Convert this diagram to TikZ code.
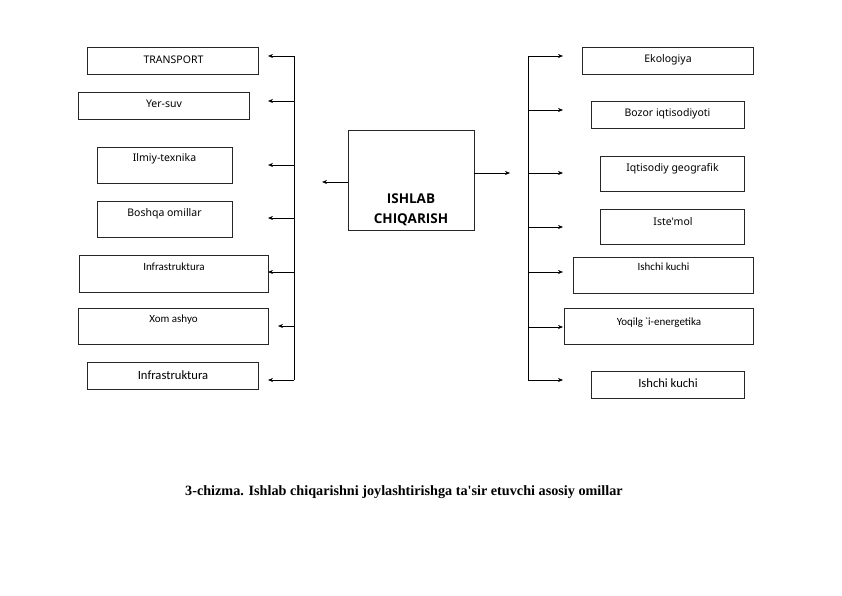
\documentclass[tikz,border=0pt]{standalone}
\usepackage{fontspec}
\newfontfamily\boxfont{Noto Sans}
\newfontfamily\centrefont{Open Sans}
\newfontfamily\calfont{Carlito}
\newfontfamily\capfont{Liberation Serif}
\usetikzlibrary{arrows.meta,fit}
\begin{document}
\begin{tikzpicture}[x=1pt,y=-1pt,
  box/.style={draw=black!85, line width=0.7pt, inner sep=0pt},
  txt/.style={inner sep=0pt, font=\boxfont\fontsize{10.5}{12}\selectfont},
  smalltxt/.style={inner sep=0pt, font=\calfont\fontsize{11}{13}\selectfont},
  bigtxt/.style={inner sep=0pt, font=\calfont\fontsize{12.6}{15}\selectfont},
  bus/.style={draw=black, line width=0.6pt},
  arr/.style={draw=black, line width=0.6pt, -{Stealth[length=5pt,width=4pt]}}]
\useasboundingbox (0,0) rectangle (842,596);
% left boxes
\node[box, fit={(87,47) (258,74)}] (transport) {};
\node[txt] (transport-t) at (173.5,59.5) {TRANSPORT};
\node[box, fit={(78,92) (249,119)}] (yersuv) {};
\node[txt] (yersuv-t) at (164,103.5) {Yer-suv};
\node[box, fit={(97,147) (232,183)}] (ilmiy) {};
\node[txt] (ilmiy-t) at (164.5,158.5) {Ilmiy-texnika};
\node[box, fit={(97,201) (232,237)}] (boshqa) {};
\node[txt] (boshqa-t) at (164.5,213.5) {Boshqa omillar};
\node[box, fit={(79,255) (268,292)}] (infraA) {};
\node[smalltxt] (infraA-t) at (174,267) {Infrastruktura};
\node[box, fit={(78,308) (268,344)}] (xom) {};
\node[smalltxt] (xom-t) at (173.5,320) {Xom ashyo};
\node[box, fit={(87,362) (258,389)}] (infraB) {};
\node[bigtxt] (infraB-t) at (173,375) {Infrastruktura};
% right boxes
\node[box, fit={(582,47) (753,74)}] (eko) {};
\node[txt] (eko-t) at (668,59.5) {Ekologiya};
\node[box, fit={(591,101) (744,128)}] (bozor) {};
\node[txt] (bozor-t) at (667.5,114) {Bozor iqtisodiyoti};
\node[box, fit={(600,156) (744,191)}] (iqt) {};
\node[txt] (iqt-t) at (672.5,168.5) {Iqtisodiy geografik};
\node[box, fit={(600,209) (744,244)}] (iste) {};
\node[txt] (iste-t) at (673,222) {Iste'mol};
\node[box, fit={(573,257) (753,293)}] (ishchiA) {};
\node[smalltxt] (ishchiA-t) at (663.5,267) {Ishchi kuchi};
\node[box, fit={(564,308) (753,344)}] (yoq) {};
\node[smalltxt] (yoq-t) at (659,323) {Yoqilg\,\textasciigrave i-energetika};
\node[box, fit={(591,371) (744,398)}] (ishchiB) {};
\node[bigtxt] (ishchiB-t) at (668,383) {Ishchi kuchi};
% centre
\node[box, fit={(348,130) (474,230)}] (centre) {};
\node[inner sep=0pt, align=center, font=\centrefont\bfseries\fontsize{13.5}{20.5}\selectfont] (centre-t) at (411,210) {ISHLAB\\CHIQARISH};
% buses
\coordinate (LT) at (294,56);
\coordinate (LB) at (294,380);
\coordinate (RT) at (528,56);
\coordinate (RB) at (528,380);
\draw[bus] (LT) -- (LB);
\draw[bus] (RT) -- (RB);
\foreach \n/\y/\t in {1/56/268, 2/101/268, 3/165/268, 4/218/268, 5/272/268, 6/326/278, 7/380/268}{
  \coordinate (lb\n) at (294,\y);
  \coordinate (lt\n) at (\t,\y);
  \draw[arr] (lb\n) -- (lt\n);
}
\foreach \n/\y in {1/56, 2/110, 3/173, 4/227, 5/272, 6/327, 7/380}{
  \coordinate (rb\n) at (528,\y);
  \coordinate (rt\n) at (563,\y);
  \draw[arr] (rb\n) -- (rt\n);
}
\coordinate (cl) at (322,182);
\coordinate (cr) at (510,173);
\draw[arr] (centre.west |- cl) -- (cl);
\draw[arr] (centre.east |- cr) -- (cr);
% caption
\node[inner sep=0pt, anchor=west, font=\capfont\bfseries\fontsize{14.2}{16}\selectfont] (caption) at (185,492) {3-chizma. Ishlab chiqarishni joylashtirishga ta'sir etuvchi asosiy omillar};
\end{tikzpicture}
\end{document}
